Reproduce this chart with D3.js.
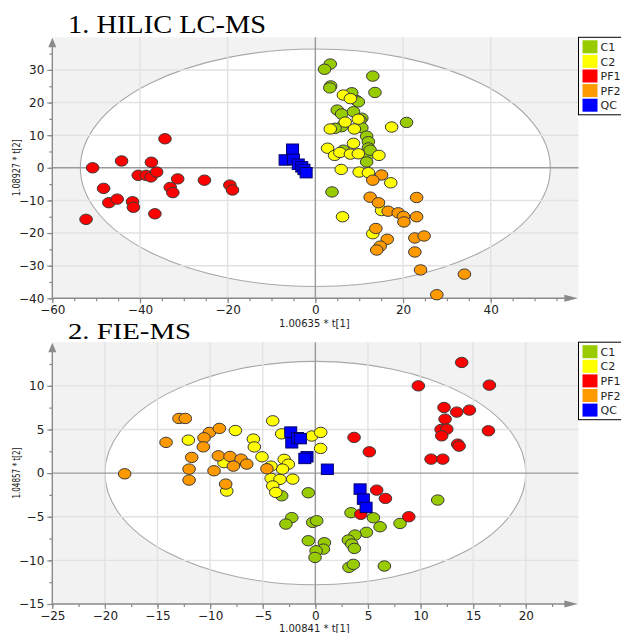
<!DOCTYPE html>
<html><head><meta charset="utf-8">
<script src="https://cdn.jsdelivr.net/npm/d3@7"></script>
<style>body{margin:0;background:#fff;} svg{display:block;}</style>
</head><body>
<svg id="chart" width="621" height="633"></svg>
<script>
// ---------- DATA ----------
const categories = ["C1", "C2", "PF1", "PF2", "QC"];
const catColors = ["#99cc00", "#ffff00", "#ff0000", "#ff9900", "#0000ff"];

// Chart 1: HILIC LC-MS  [t1, t2]
const hilicC1 = [[3.4,31.8],[2.1,30.2],[13.1,28.1],[3.5,25.1],[3.3,24.5],[13.6,23.1],[8.3,23.0],[9.4,20.6],[9.8,20.2],[5.0,17.7],[6.0,16.5],[8.7,17.2],[20.8,13.9],[10.6,15.2],[10.2,14.6],[6.0,12.6],[4.5,12.1],[10.6,12.3],[11.7,9.7],[12.1,8.0],[12.1,6.1],[11.9,3.9],[11.7,1.8],[6.4,5.4],[12.5,5.4],[3.8,-7.4]];
const hilicC2 = [[6.4,22.3],[8.0,21.2],[9.8,14.9],[6.8,14.0],[3.4,11.9],[8.9,11.9],[17.4,12.5],[8.7,7.5],[2.8,6.0],[4.4,3.8],[5.6,4.7],[8.0,4.2],[9.8,4.3],[14.5,3.8],[5.9,-0.5],[10.0,-1.3],[12.1,-1.5],[17.2,-4.6],[6.2,-15.0],[15.1,-13.1],[13.1,-20.2]];
const hilicPF1 = [[-34.3,8.9],[-50.8,0.0],[-44.2,2.1],[-37.4,1.7],[-40.4,-2.3],[-38.6,-2.3],[-37.5,-2.8],[-36.2,-1.3],[-31.4,-3.4],[-25.3,-3.8],[-19.5,-5.3],[-18.9,-6.8],[-48.3,-6.3],[-33.1,-6.0],[-32.5,-7.6],[-47.1,-10.7],[-45.2,-9.6],[-41.7,-10.4],[-41.5,-12.1],[-36.6,-14.1],[-52.3,-15.8]];
const hilicPF2 = [[15.1,-2.2],[13.1,-3.8],[23.1,-9.1],[12.5,-9.0],[14.4,-10.7],[16.6,-13.3],[18.9,-13.8],[20.1,-14.9],[20.2,-16.6],[23.1,-15.0],[13.8,-18.6],[16.4,-21.9],[22.7,-21.5],[24.8,-20.9],[14.8,-24.0],[14.0,-25.2],[22.7,-25.8],[24.0,-31.3],[34.0,-32.6],[27.7,-38.9]];
const hilicQC = [[-5.2,5.7],[-6.9,2.4],[-5.0,2.6],[-3.9,1.1],[-3.1,0.3],[-2.6,-0.5],[-2.1,-1.5]];

// Chart 2: FIE-MS  [t1, t2]
const fieC1 = [[-3.2,-2.6],[-0.67,-2.25],[-2.24,-5.1],[-2.8,-5.84],[-0.25,-5.65],[0.13,-5.46],[3.39,-4.54],[5.52,-5.12],[6.15,-6.15],[8.05,-5.77],[11.63,-3.09],[4.85,-6.79],[3.77,-7.1],[3.14,-7.67],[3.46,-8.13],[3.71,-8.63],[-0.67,-7.75],[0.86,-7.98],[0.76,-8.71],[0.07,-8.9],[-0.03,-9.66],[3.2,-10.8],[3.61,-10.46],[6.56,-10.65]];
const fieC2 = [[-12.07,3.78],[-7.6,4.88],[-4.05,5.99],[-5.89,3.9],[-5.8,3.0],[-5.07,1.87],[-3.2,4.5],[-2.96,1.58],[-2.57,1.02],[-3.12,0.46],[-4.22,0.8],[-4.2,-0.61],[-3.36,-0.72],[-2.15,-0.69],[-4.05,-1.47],[-3.76,-2.21],[-8.42,-2.06],[-8.68,1.2],[-0.34,4.25],[0.51,4.66],[0.5,2.83]];
const fiePF1 = [[13.91,12.68],[9.79,10.0],[16.54,10.08],[12.23,7.52],[13.44,6.99],[14.64,7.22],[12.33,6.19],[11.95,5.0],[12.49,5.04],[12.01,4.27],[16.45,4.85],[13.53,3.32],[13.66,3.09],[11.0,1.6],[12.11,1.6],[3.68,4.09],[5.13,2.44],[5.83,-1.95],[6.66,-2.9],[4.32,-4.72],[8.88,-5.0]];
const fiePF2 = [[-12.96,6.26],[-12.36,6.26],[-14.19,3.52],[-10.07,4.66],[-9.12,5.12],[-10.58,4.05],[-10.65,3.01],[-11.75,1.8],[-12.0,0.46],[-12.0,-0.8],[-18.12,-0.08],[-9.22,1.98],[-8.11,1.91],[-7.06,1.6],[-7.79,0.8],[-9.63,0.27],[-6.52,1.03],[-8.52,-1.26],[-4.6,0.5]];
const fieQC = [[-2.34,4.7],[-2.24,3.47],[-1.7,4.05],[-1.42,3.95],[-0.79,1.87],[-1.0,1.68],[1.14,0.44],[4.25,-1.83],[4.56,-2.98],[4.82,-3.93]];

// Axis settings
const hilicXTicks = [-60,-40,-20,0,20,40];
const hilicYTicks = [-40,-30,-20,-10,0,10,20,30];
const fieXTicks = [-25,-20,-15,-10,-5,0,5,10,15,20];
const fieYTicks = [-15,-10,-5,0,5,10];

const charts = [
  {title:"1. HILIC LC-MS", xLabel:"1.00635 * t[1]", yLabel:"1.08927 * t[2]",
   xDomain:[-60,60], yDomain:[-40,40], xTicks:hilicXTicks, yTicks:hilicYTicks,
   xMinor:5, yMinor:5, ell:[53.6,36.4],
   series:[hilicC1,hilicC2,hilicPF1,hilicPF2,hilicQC],
   top:37.3, bottom:298.3, titleY:33, titleW:198, titleSize:26, xLabY:327, yLabLen:57},
  {title:"2. FIE-MS", xLabel:"1.00841 * t[1]", yLabel:"1.04857 * t[2]",
   xDomain:[-25,25], yDomain:[-15,15], xTicks:fieXTicks, yTicks:fieYTicks,
   xMinor:2.5, yMinor:2.5, ell:[20,12.8],
   series:[fieC1,fieC2,fiePF1,fiePF2,fieQC],
   top:342.2, bottom:604, titleY:338.5, titleW:123, titleSize:24, xLabY:631.5, yLabLen:51}
];

const svg = d3.select("#chart");
const left = 52.3, right = 578.4;

charts.forEach((c, ci) => {
  const g = svg.append("g");
  const x = d3.scaleLinear().domain(c.xDomain).range([left, right]);
  const y = d3.scaleLinear().domain(c.yDomain).range([c.bottom, c.top]);

  // background
  g.append("rect").attr("x", left).attr("y", c.top)
    .attr("width", right-left).attr("height", c.bottom-c.top).attr("fill", "#f2f2f2");
  // ellipse
  g.append("ellipse").attr("cx", x(0)).attr("cy", y(0))
    .attr("rx", x(c.ell[0]) - x(0)).attr("ry", y(0) - y(c.ell[1]))
    .attr("fill", "#fff").attr("stroke", "#a8a8a8").attr("stroke-width", 1.1);
  // grid
  c.xTicks.filter(v => v !== 0 && v !== c.xDomain[0]).forEach(v => {
    g.append("line").attr("x1", x(v)).attr("x2", x(v)).attr("y1", c.top).attr("y2", c.bottom)
      .attr("stroke", "#e2e2e2").attr("stroke-width", 1.4);
  });
  c.yTicks.filter(v => v !== 0 && v !== c.yDomain[0]).forEach(v => {
    g.append("line").attr("x1", left).attr("x2", right).attr("y1", y(v)).attr("y2", y(v))
      .attr("stroke", "#e2e2e2").attr("stroke-width", 1.4);
  });
  // zero lines
  g.append("line").attr("x1", x(0)).attr("x2", x(0)).attr("y1", c.top).attr("y2", c.bottom)
    .attr("stroke", "#9a9a9a").attr("stroke-width", 1.4);
  g.append("line").attr("x1", left).attr("x2", right).attr("y1", y(0)).attr("y2", y(0))
    .attr("stroke", "#9a9a9a").attr("stroke-width", 1.4);

  // axes
  const xMinorVals = d3.range(c.xDomain[0], c.xDomain[1] - 1e-9, c.xMinor);
  const yMinorVals = d3.range(c.yDomain[0], c.yDomain[1] - 1e-9, c.yMinor);
  const xAxis = d3.axisBottom(x).tickValues(c.xTicks).tickSize(5).tickPadding(2).tickFormat(d3.format("d"));
  const yAxis = d3.axisLeft(y).tickValues(c.yTicks).tickSize(5).tickPadding(3).tickFormat(d3.format("d"));
  const xMinorAxis = d3.axisBottom(x).tickValues(xMinorVals).tickSize(3).tickFormat("");
  const yMinorAxis = d3.axisLeft(y).tickValues(yMinorVals).tickSize(3).tickFormat("");

  const styleAxis = sel => {
    sel.select(".domain").remove();
    sel.selectAll(".tick line").attr("stroke", "#8a8a8a").attr("stroke-width", 1.2);
    sel.selectAll(".tick text").attr("fill", "#222").style("font-family", "DejaVu Sans").style("font-size", "12px");
  };
  g.append("g").attr("transform", `translate(0,${c.bottom})`).call(xMinorAxis).call(styleAxis);
  g.append("g").attr("transform", `translate(${left},0)`).call(yMinorAxis).call(styleAxis);
  g.append("g").attr("transform", `translate(0,${c.bottom})`).call(xAxis).call(styleAxis);
  g.append("g").attr("transform", `translate(${left},0)`).call(yAxis).call(styleAxis);

  // axis lines with arrows
  g.append("line").attr("x1", left).attr("x2", left).attr("y1", c.bottom).attr("y2", c.top + 6)
    .attr("stroke", "#8a8a8a").attr("stroke-width", 1.4);
  g.append("line").attr("x1", left).attr("x2", right - 8).attr("y1", c.bottom).attr("y2", c.bottom)
    .attr("stroke", "#8a8a8a").attr("stroke-width", 1.4);
  g.append("path").attr("d", `M${left-4},${c.top+10} L${left},${c.top+0.5} L${left+4},${c.top+10} Z`)
    .attr("fill", "#8a8a8a");
  g.append("path").attr("d", `M${right-14},${c.bottom-3.5} L${right-0.5},${c.bottom} L${right-14},${c.bottom+3.5} Z`)
    .attr("fill", "#8a8a8a");

  // axis labels
  g.append("text").attr("x", x(0) - 1).attr("y", c.xLabY).attr("text-anchor", "middle")
    .style("font-family", "DejaVu Sans").style("font-size", "10px").attr("fill", "#222").text(c.xLabel);
  g.append("text").attr("transform", `translate(20,${y(0)}) rotate(-90)`).attr("text-anchor", "middle")
    .attr("textLength", c.yLabLen).attr("lengthAdjust", "spacingAndGlyphs")
    .style("font-family", "DejaVu Sans").style("font-size", "10px").attr("fill", "#222").text(c.yLabel);

  // title
  g.append("text").attr("x", 68).attr("y", c.titleY)
    .attr("textLength", c.titleW).attr("lengthAdjust", "spacingAndGlyphs")
    .style("font-family", "Liberation Serif").style("font-size", c.titleSize + "px").attr("fill", "#000").text(c.title);

  // points
  c.series.forEach((pts, si) => {
    const sg = g.append("g");
    if (categories[si] === "QC") {
      sg.selectAll("rect").data(pts).join("rect")
        .attr("x", d => x(d[0]) - 6).attr("y", d => y(d[1]) - 5.2)
        .attr("width", 12).attr("height", 10.4)
        .attr("fill", catColors[si]).attr("stroke", "#000066").attr("stroke-width", 1);
    } else {
      sg.selectAll("ellipse").data(pts).join("ellipse")
        .attr("cx", d => x(d[0])).attr("cy", d => y(d[1]))
        .attr("rx", 6.3).attr("ry", 5.2)
        .attr("fill", catColors[si]).attr("stroke", "#3a3a3a").attr("stroke-width", 1);
    }
  });

  // legend
  const lg = g.append("g").attr("transform", `translate(578.5,${c.top})`);
  lg.append("rect").attr("x", 0).attr("y", 0).attr("width", 60).attr("height", 77.5)
    .attr("fill", "#fff").attr("stroke", "#000").attr("stroke-width", 1);
  categories.forEach((cat, i) => {
    lg.append("rect").attr("x", 4).attr("y", 3 + i * 14.6).attr("width", 15).attr("height", 13)
      .attr("fill", catColors[i]);
    lg.append("text").attr("x", 22).attr("y", 13.7 + i * 14.6)
      .style("font-family", "DejaVu Sans").style("font-size", "11px").attr("fill", "#222").text(cat);
  });
});
</script>
</body></html>
